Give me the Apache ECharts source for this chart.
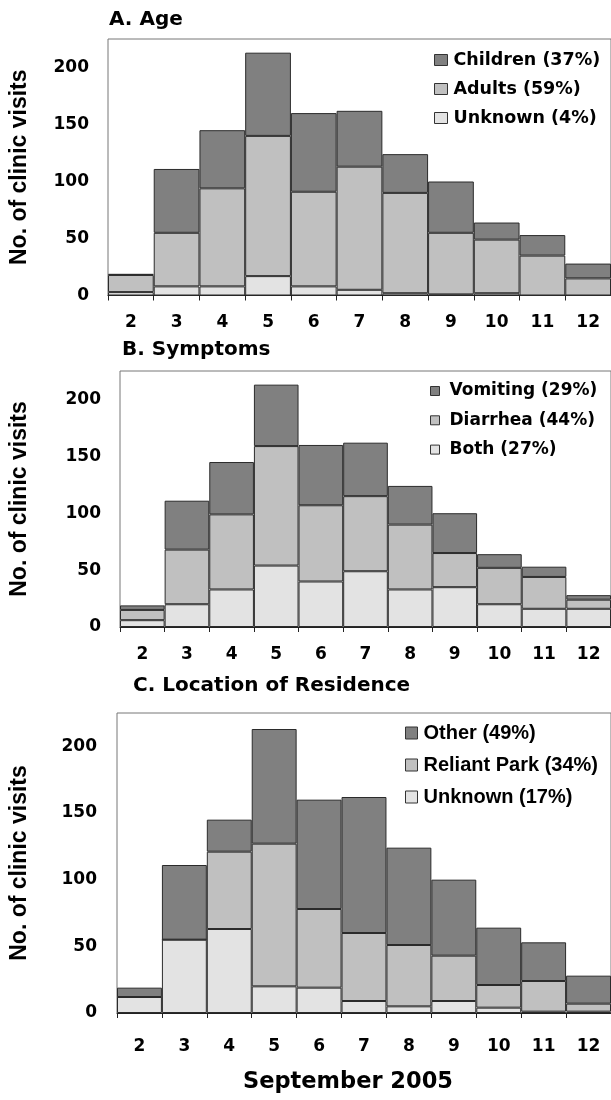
<!DOCTYPE html>
<html>
<head>
<meta charset="utf-8">
<script src="https://cdn.jsdelivr.net/npm/echarts@6/dist/echarts.min.js"></script>
<style>
html,body{margin:0;padding:0;background:#fff;}
#chart{width:611px;height:1100px;}
</style>
</head>
<body>
<div id="chart"></div>
<script>
// ---- data ----
var days = ['2','3','4','5','6','7','8','9','10','11','12'];
var yTicks = [0, 50, 100, 150, 200];

var ageChildren = [1, 56, 51, 73, 69, 49, 34, 45, 15, 18, 13];
var ageAdults   = [15, 47, 86, 123, 83, 108, 88, 54, 47, 35, 15];
var ageUnknown  = [3, 8, 8, 17, 8, 5, 2, 1, 2, 0, 0];

var symVomiting = [4, 43, 46, 54, 53, 47, 34, 35, 12, 9, 4];
var symDiarrhea = [9, 48, 66, 105, 67, 66, 57, 30, 32, 28, 8];
var symBoth     = [6, 20, 33, 54, 40, 49, 33, 35, 20, 16, 16];

var resOther    = [7, 56, 24, 86, 82, 102, 73, 57, 43, 29, 21];
var resReliant  = [0, 0, 58, 107, 59, 51, 46, 34, 17, 23, 6];
var resUnknown  = [12, 55, 63, 20, 19, 9, 5, 9, 4, 1, 1];

var titles = ['A. Age', 'B. Symptoms', 'C. Location of Residence'];
var xTitle = 'September 2005';
var yTitle = 'No. of clinic visits';

// ---- styling ----
var DARK = '#808080', MID = '#c0c0c0', LIGHT = '#e3e3e3';
var WIDE = '"DejaVu Sans", sans-serif';
var ARIAL = '"Liberation Sans", Arial, sans-serif';

var panels = [
  { grid: {left: 106, top: 39, width: 509, height: 256.5}, yGap: 77, yMargin: 19, xMargin: 19,
    title: {left: 109, top: 10},
    series: [['Unknown (4%)', ageUnknown, LIGHT], ['Adults (59%)', ageAdults, MID], ['Children (37%)', ageChildren, DARK]],
    legend: {left: 434, top: 50, itemWidth: 13, itemHeight: 11, itemGap: 9, font: WIDE, size: 17.5, pad: 1} },
  { grid: {left: 118, top: 371, width: 497, height: 256}, yGap: 89, yMargin: 19, xMargin: 19,
    title: {left: 122, top: 340},
    series: [['Both (27%)', symBoth, LIGHT], ['Diarrhea (44%)', symDiarrhea, MID], ['Vomiting (29%)', symVomiting, DARK]],
    legend: {left: 430, top: 381, itemWidth: 9, itemHeight: 9, itemGap: 9.3, font: WIDE, size: 17, pad: 5} },
  { grid: {left: 117, top: 713, width: 495, height: 300}, yGap: 86, yMargin: 20, xMargin: 25,
    title: {left: 133, top: 676},
    series: [['Unknown (17%)', resUnknown, LIGHT], ['Reliant Park (34%)', resReliant, MID], ['Other (49%)', resOther, DARK]],
    legend: {left: 405, top: 723, itemWidth: 12, itemHeight: 12, itemGap: 12, font: ARIAL, size: 20, pad: 1} }
];

var option = {
  animation: false,
  backgroundColor: '#fff',
  title: [], grid: [], xAxis: [], yAxis: [], legend: [], series: []
};

panels.forEach(function (p, i) {
  option.title.push({
    text: titles[i], left: p.title.left, top: p.title.top, padding: 0,
    textStyle: {fontFamily: WIDE, fontWeight: 'bold', fontSize: 20, color: '#000'}
  });
  option.grid.push(Object.assign({show: true, borderColor: '#777', borderWidth: 1, backgroundColor: 'transparent'}, p.grid));
  option.xAxis.push({
    type: 'category', gridIndex: i, data: days,
    axisLine: {show: true, lineStyle: {color: '#222', width: 1}},
    axisTick: {show: true, alignWithLabel: false, length: 5, lineStyle: {color: '#222'}},
    axisLabel: {margin: p.xMargin, fontFamily: WIDE, fontWeight: 'bold', fontSize: 17, color: '#000', lineHeight: 17},
    splitLine: {show: false}
  });
  option.yAxis.push({
    type: 'value', gridIndex: i, min: 0, max: 225, interval: 50,
    name: yTitle, nameLocation: 'middle', nameRotate: 90, nameGap: p.yGap,
    nameTextStyle: {fontFamily: ARIAL, fontWeight: 'bold', fontSize: 23, color: '#000'},
    axisLine: {show: false}, axisTick: {show: false}, splitLine: {show: false},
    axisLabel: {margin: p.yMargin, showMaxLabel: false, fontFamily: WIDE, fontWeight: 'bold', fontSize: 17, color: '#000',
      formatter: function (v) { return yTicks.indexOf(v) >= 0 ? String(v) : ''; }}
  });
  var names = [];
  p.series.forEach(function (s) {
    names.push(s[0]);
    option.series.push({
      type: 'bar', name: s[0], data: s[1], stack: 'p' + i,
      xAxisIndex: i, yAxisIndex: i, barCategoryGap: 0, barGap: 0,
      itemStyle: {color: s[2], borderColor: '#2b2b2b', borderWidth: 1},
      emphasis: {disabled: true}
    });
  });
  option.legend.push({
    data: names.slice().reverse(), orient: 'vertical', left: p.legend.left, top: p.legend.top,
    padding: 0, icon: 'rect', itemWidth: p.legend.itemWidth, itemHeight: p.legend.itemHeight,
    itemGap: p.legend.itemGap, selectedMode: false,
    itemStyle: {borderColor: '#333', borderWidth: 1},
    textStyle: {fontFamily: p.legend.font, fontWeight: 'bold', fontSize: p.legend.size, color: '#000',
      lineHeight: 20, padding: [0, 0, 0, p.legend.pad]}
  });
});

option.title.push({
  text: xTitle, left: 348, top: 1071, padding: 0, textAlign: 'center',
  textStyle: {fontFamily: WIDE, fontWeight: 'bold', fontSize: 22.5, color: '#000'}
});

var chart = echarts.init(document.getElementById('chart'), null, {renderer: 'canvas'});
chart.setOption(option);
</script>
</body>
</html>
